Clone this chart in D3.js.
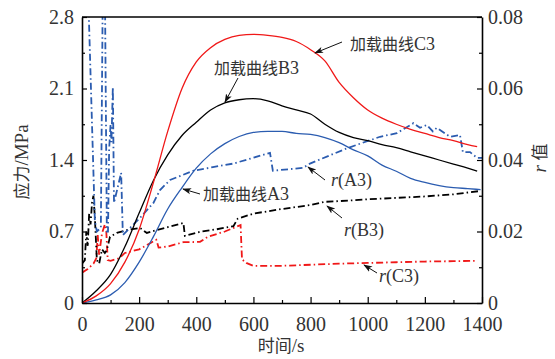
<!DOCTYPE html>
<html><head><meta charset="utf-8">
<script src="https://cdn.jsdelivr.net/npm/d3@7"></script>
<style>
body{margin:0;background:#fff;}
svg{display:block;}
</style></head>
<body><svg id="c" width="555" height="359"></svg>
<script>
// ---- data ----
const xTicks = [0,200,400,600,800,1000,1200,1400];
const xTickLabels = ["0","200","400","600","800","1000","1200","1400"];
const yLeftTicks = [0,0.7,1.4,2.1,2.8];
const yRightTicks = [0,0.02,0.04,0.06,0.08];
const yLeftTickLabels = ["0","0.7","1.4","2.1","2.8"];
const yRightTickLabels = ["0","0.02","0.04","0.06","0.08"];

// loading curves (stress, MPa)
const loadC3 = [[0,0],[50,0.07],[100,0.19],[150,0.4],[200,0.72],[250,1.18],[300,1.68],[350,2.1],[400,2.36],[450,2.5],[500,2.58],[550,2.62],[600,2.63],[650,2.62],[700,2.6],[750,2.56],[800,2.48],[850,2.37],[900,2.16],[950,2.01],[1000,1.89],[1050,1.81],[1100,1.75],[1150,1.7],[1200,1.66],[1250,1.62],[1300,1.59],[1350,1.55],[1383,1.53]];
const loadB3 = [[0,0],[50,0.12],[100,0.28],[150,0.55],[200,0.88],[250,1.2],[300,1.45],[350,1.64],[400,1.77],[450,1.89],[500,1.96],[550,1.99],[600,2.0],[650,1.98],[700,1.93],[750,1.89],[800,1.85],[850,1.75],[900,1.67],[950,1.62],[1000,1.59],[1050,1.55],[1100,1.52],[1150,1.48],[1200,1.44],[1250,1.4],[1300,1.36],[1350,1.32],[1383,1.29]];
const loadA3 = [[0,0],[50,0.03],[100,0.08],[150,0.2],[200,0.4],[250,0.65],[300,0.92],[350,1.13],[400,1.32],[450,1.46],[500,1.56],[550,1.63],[600,1.67],[650,1.68],[700,1.68],[750,1.66],[800,1.65],[850,1.62],[900,1.57],[950,1.5],[1000,1.44],[1050,1.35],[1100,1.29],[1150,1.22],[1200,1.18],[1250,1.15],[1300,1.13],[1350,1.12],[1395,1.11]];

// r values (right axis)
const rA3 = [[18,0.09],[24,0.08],[45,0.023],[52,0.02],[66,0.021],[73,0.09],[80,0.09],[87,0.02],[91,0.02],[95,0.043],[100,0.05],[103,0.045],[108,0.0604],[112,0.028],[137,0.0364],[143,0.019],[168,0.021],[203,0.0238],[250,0.028],[273,0.0316],[308,0.0344],[390,0.037],[458,0.038],[530,0.039],[658,0.042],[668,0.037],[774,0.0378],[798,0.039],[928,0.0433],[1043,0.0465],[1102,0.0475],[1160,0.0503],[1183,0.049],[1207,0.0498],[1228,0.048],[1242,0.049],[1288,0.0465],[1323,0.047],[1333,0.0422],[1358,0.0422],[1383,0.0406],[1400,0.0406]];
const rB3 = [[0,0.011],[10,0.012],[15,0.02],[20,0.016],[25,0.025],[30,0.022],[35,0.028],[40,0.03],[45,0.024],[52,0.012],[60,0.011],[70,0.015],[80,0.014],[87,0.0148],[98,0.0185],[122,0.0196],[157,0.0204],[203,0.021],[227,0.0196],[261,0.0204],[300,0.0212],[355,0.0224],[360,0.0188],[413,0.0199],[470,0.0206],[530,0.0215],[545,0.0236],[600,0.025],[700,0.0263],[800,0.0274],[850,0.0283],[900,0.0285],[1000,0.029],[1100,0.0294],[1200,0.0298],[1300,0.0304],[1390,0.0313]];
const rC3 = [[0,0.0085],[20,0.0095],[40,0.011],[50,0.0125],[55,0.019],[60,0.0135],[70,0.0195],[80,0.022],[85,0.02],[90,0.012],[100,0.0118],[130,0.0125],[150,0.014],[200,0.015],[240,0.0168],[260,0.0177],[268,0.0155],[300,0.0158],[355,0.017],[413,0.0171],[440,0.0185],[500,0.02],[555,0.0218],[560,0.0122],[575,0.0112],[600,0.0104],[700,0.0104],[800,0.0107],[900,0.011],[1000,0.0112],[1100,0.0114],[1200,0.0116],[1300,0.0117],[1380,0.0118]];

const red="#f01818", blue="#2b5cb0", black="#000";
const SERIF = 'Liberation Serif, serif';
const CJK = 'Noto Sans CJK SC, sans-serif';

// ---- layout ----
const svg = d3.select("#c").attr("font-family", SERIF);
const L=82, R=482, T=17, B=303;
const x = d3.scaleLinear().domain([0,1400]).range([L,R]);
const yL = d3.scaleLinear().domain([0,2.8]).range([B,T]);
const yR = d3.scaleLinear().domain([0,0.08]).range([B,T]);

const defs = svg.append("defs");
defs.append("clipPath").attr("id","clip")
  .append("rect").attr("x",L).attr("y",T).attr("width",R-L).attr("height",B-T);
defs.append("marker").attr("id","arr").attr("viewBox","0 0 10 10").attr("refX",9).attr("refY",5)
  .attr("markerWidth",9).attr("markerHeight",9).attr("markerUnits","userSpaceOnUse").attr("orient","auto")
  .append("path").attr("d","M0,1.5 L10,5 L0,8.5 L2.5,5 Z").attr("fill","#111");

const g = svg.append("g").attr("clip-path","url(#clip)");
const lineR = d3.line().x(d=>x(d[0])).y(d=>yR(d[1]));
const lineS = d3.line().x(d=>x(d[0])).y(d=>yL(d[1])).curve(d3.curveMonotoneX);
const dd = "7,3,1.5,3";

g.append("path").datum(rC3).attr("d",lineR).attr("fill","none").attr("stroke",red).attr("stroke-width",1.8).attr("stroke-dasharray",dd);
g.append("path").datum(rB3).attr("d",lineR).attr("fill","none").attr("stroke",black).attr("stroke-width",1.8).attr("stroke-dasharray",dd);
g.append("path").datum(rA3).attr("d",lineR).attr("fill","none").attr("stroke",blue).attr("stroke-width",1.8).attr("stroke-dasharray",dd);
g.append("path").datum(loadA3).attr("d",lineS).attr("fill","none").attr("stroke",blue).attr("stroke-width",1.3);
g.append("path").datum(loadB3).attr("d",lineS).attr("fill","none").attr("stroke",black).attr("stroke-width",1.3);
g.append("path").datum(loadC3).attr("d",lineS).attr("fill","none").attr("stroke",red).attr("stroke-width",1.3);

// ---- axes ----
const ax = svg.append("g");
const xAxis = ax.append("g").attr("transform",`translate(0,${B})`)
  .call(d3.axisBottom(x).tickValues(d3.range(0,1401,100)).tickSizeInner(-3).tickSizeOuter(0).tickFormat(""));
xAxis.selectAll(".tick line").filter(d=>d%200===0).attr("y2",-6);
const xl = ax.append("g").attr("transform",`translate(0,${B})`)
  .call(d3.axisBottom(x).tickValues(xTicks).tickSize(0).tickPadding(14).tickFormat((d,i)=>xTickLabels[i]));
xl.select(".domain").remove();

const yAxisL = ax.append("g").attr("transform",`translate(${L},0)`)
  .call(d3.axisLeft(yL).tickValues(d3.range(0,2.81,0.35)).tickSizeInner(-3).tickSizeOuter(0).tickFormat(""));
yAxisL.selectAll(".tick line").filter((d,i)=>i%2===0).attr("x2",5);
const yl = ax.append("g").attr("transform",`translate(${L},0)`)
  .call(d3.axisLeft(yL).tickValues(yLeftTicks).tickSize(0).tickPadding(8).tickFormat((d,i)=>yLeftTickLabels[i]));
yl.select(".domain").remove();

const yAxisR = ax.append("g").attr("transform",`translate(${R},0)`)
  .call(d3.axisRight(yR).tickValues(d3.range(0,0.0801,0.01)).tickSizeInner(-3).tickSizeOuter(0).tickFormat(""));
yAxisR.selectAll(".tick line").filter((d,i)=>i%2===0).attr("x2",-5);
const yr = ax.append("g").attr("transform",`translate(${R},0)`)
  .call(d3.axisRight(yR).tickValues(yRightTicks).tickSize(0).tickPadding(6).tickFormat((d,i)=>yRightTickLabels[i]));
yr.select(".domain").remove();

ax.selectAll("g").attr("font-family", SERIF);
ax.selectAll("text").attr("font-family", SERIF).attr("font-size",20).attr("fill","#333");
ax.selectAll(".domain").attr("stroke","#000").attr("stroke-width",1.6);
ax.selectAll(".tick line").attr("stroke","#000").attr("stroke-width",1.2);
svg.append("line").attr("x1",L).attr("x2",R).attr("y1",T).attr("y2",T).attr("stroke","#000").attr("stroke-width",1.6);

// ---- titles ----
function mixed(sel, parts){
  parts.forEach(p=>{
    const t = sel.append("tspan").text(p.t).attr("font-family", p.cjk ? CJK : SERIF);
    if(p.it) t.attr("font-style","italic");
    if(p.fs) t.attr("font-size",p.fs);
  });
  return sel;
}
mixed(svg.append("text").attr("x",281).attr("y",352).attr("text-anchor","middle").attr("font-size",19).attr("fill","#333"),
  [{t:"时间",cjk:1,fs:17},{t:"/s"}]);
mixed(svg.append("text").attr("transform","translate(28,162) rotate(-90)").attr("text-anchor","middle").attr("font-size",19).attr("fill","#333"),
  [{t:"应力",cjk:1,fs:17},{t:"/MPa"}]);
mixed(svg.append("text").attr("transform","translate(546,158) rotate(-90)").attr("text-anchor","middle").attr("font-size",19).attr("fill","#333"),
  [{t:"r ",it:1},{t:"值",cjk:1,fs:17}]);

// ---- annotations ----
const ann = [
  {t:"加载曲线", s:"C3", x:350, y:50, a:[342,42,315,53]},
  {t:"加载曲线", s:"B3", x:214, y:74, a:[238,78,225,102]},
  {t:"加载曲线", s:"A3", x:203, y:200, a:[200,194,183,189]}
];
ann.forEach(d=>{
  mixed(svg.append("text").attr("x",d.x).attr("y",d.y).attr("font-size",18).attr("fill","#333"),
    [{t:d.t,cjk:1,fs:16},{t:d.s}]);
  svg.append("line").attr("x1",d.a[0]).attr("y1",d.a[1]).attr("x2",d.a[2]).attr("y2",d.a[3])
    .attr("stroke","#111").attr("stroke-width",1).attr("marker-end","url(#arr)");
});
const rann = [
  {s:"A3", x:331, y:186, a:[325,180,308,167]},
  {s:"B3", x:344, y:236, a:[342,218,327,206]},
  {s:"C3", x:379, y:282, a:[377,273,364,265]}
];
rann.forEach(d=>{
  mixed(svg.append("text").attr("x",d.x).attr("y",d.y).attr("font-size",18).attr("fill","#333"),
    [{t:"r",it:1},{t:"("+d.s+")"}]);
  svg.append("line").attr("x1",d.a[0]).attr("y1",d.a[1]).attr("x2",d.a[2]).attr("y2",d.a[3])
    .attr("stroke","#111").attr("stroke-width",1).attr("marker-end","url(#arr)");
});
</script></body></html>
